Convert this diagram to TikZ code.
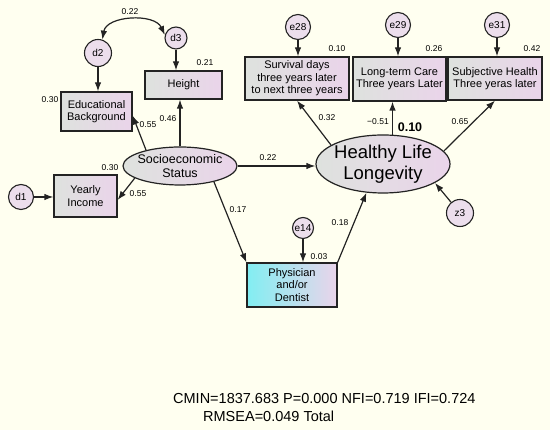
\documentclass[tikz,border=0pt]{standalone}
\usepackage{fontspec}
\setmainfont{Liberation Sans}
\usetikzlibrary{positioning,arrows.meta,shapes.geometric}
\definecolor{cream}{RGB}{255,255,240}
\definecolor{boxgray}{RGB}{222,226,222}
\definecolor{boxpink}{RGB}{234,212,234}
\definecolor{bubble}{RGB}{236,222,236}
\definecolor{aqua}{RGB}{130,238,242}
\definecolor{ink}{RGB}{35,35,35}
\newcommand{\coefsize}{\fontsize{8.5}{10}\selectfont}
\newcommand{\boxsize}{\fontsize{11}{12.5}\selectfont}

\begin{document}
\begin{tikzpicture}[x=1pt,y=1pt,
    obs/.style={draw=ink,line width=1.2pt,left color=boxgray,right color=boxpink,
                inner sep=1pt,align=center,font=\boxsize},
    lat/.style={ellipse,draw=ink,line width=1.2pt,left color=boxgray,right color=boxpink,
                inner xsep=-14pt,inner ysep=-4pt,align=center},
    err/.style={circle,draw=ink,line width=1.1pt,fill=bubble,inner sep=0pt,
                font=\fontsize{10}{12}\selectfont},
    arr/.style={draw=ink,line width=1.2pt,-{Latex[length=9pt,width=6.5pt]}},
    coef/.style={inner sep=0pt,font=\coefsize}]
    % page
    \fill[cream] (0,0) rectangle (550,430);
    % latent variables
    \node[lat,minimum width=114pt,minimum height=38pt,font=\fontsize{12.5}{14}\selectfont]
        (ses) at (180,264) {Socioeconomic\\Status};
    \node[lat,minimum width=134pt,minimum height=58pt,font=\fontsize{18.5}{21}\selectfont]
        (hl) at (383,266) {Healthy Life\\Longevity};
    % observed variables
    \node[obs,minimum width=71pt,minimum height=39pt] (edu) at (96.5,318.5) {Educational\\Background};
    \node[obs,minimum width=77pt,minimum height=28pt] (hgt) at (183.5,345) {Height};
    \node[obs,minimum width=63pt,minimum height=42pt] (inc) at (85.5,234) {Yearly\\Income};
    \node[obs,minimum width=104pt,minimum height=43pt] (surv) at (297,351.5)
        {Survival days\\three years later\\to next three years};
    \node[obs,minimum width=93pt,minimum height=44pt] (care) at (399.5,351)
        {Long-term Care\\Three years Later};
    \node[obs,minimum width=94pt,minimum height=43pt] (subj) at (495,351.5)
        {Subjective Health\\Three yeras later};
    \node[obs,left color=aqua,minimum width=90pt,minimum height=44pt] (doc) at (292,145)
        {Physician\\and/or\\Dentist};
    % error terms
    \node[err,minimum size=27pt] (d2) at (98,377) {d2};
    \node[err,minimum size=22pt] (d3) at (176,392) {d3};
    \node[err,minimum size=25pt] (d1) at (21,233) {d1};
    \node[err,minimum size=25pt] (e28) at (298,403) {e28};
    \node[err,minimum size=25pt] (e29) at (398,405) {e29};
    \node[err,minimum size=25pt] (e31) at (497,405) {e31};
    \node[err,minimum size=21pt] (e14) at (303,202) {e14};
    \node[err,minimum size=27pt] (z3) at (460,217) {z3};
    % paths
    \draw[arr] (ses.155) -- ([yshift=-4pt]edu.east);
    \draw[arr] (ses.north) -- (ses.north |- hgt.south);
    \draw[arr] (ses.195) -- ([yshift=-4pt]inc.east);
    \draw[arr] (ses.-25) -- (doc.north west);
    \draw[arr] (ses.east) -- (ses.east -| hl.west);
    \draw[arr] (doc.north east) -- (hl.-120);
    \draw[arr] (hl.160) -- (surv.south);
    \draw[arr] (hl.72) -- (hl.72 |- care.south);
    \draw[arr] (hl.12) -- (subj.south);
    \draw[arr] (z3) -- (hl.-20);
    % error arrows
    \draw[arr] (d1.east) -- (d1.east -| inc.west);
    \draw[arr] (d2.south) -- (d2.south |- edu.north);
    \draw[arr] (d3.south) -- (d3.south |- hgt.north);
    \draw[arr] (e28.south) -- (e28.south |- surv.north);
    \draw[arr] (e29.south) -- (e29.south |- care.north);
    \draw[arr] (e31.south) -- (e31.south |- subj.north);
    \draw[arr] (e14.south) -- (e14.south |- doc.north);
    \draw[draw=ink,line width=1.2pt,{Latex[length=9pt,width=6.5pt]}-{Latex[length=9pt,width=6.5pt]}]
        (d2.72) to[out=80,in=115] (d3.165);
    % estimates
    \node[coef] (k1) at (130,418) {0.22};
    \node[coef] (k2) at (205,367) {0.21};
    \node[coef] (k3) at (50,330) {0.30};
    \node[coef] (k4) at (148,305) {0.55};
    \node[coef] (k5) at (168,311) {0.46};
    \node[coef] (k6) at (110,262) {0.30};
    \node[coef] (k7) at (138,236) {0.55};
    \node[coef] (k8) at (238,220) {0.17};
    \node[coef] (k9) at (268,272) {0.22};
    \node[coef] (k10) at (337,381) {0.10};
    \node[coef] (k11) at (434,381) {0.26};
    \node[coef] (k12) at (532,381) {0.42};
    \node[coef] (k13) at (327,312) {0.32};
    \node[coef] (k14) at (378,308) {−0.51};
    \node[inner sep=0pt,font=\fontsize{12.5}{14}\selectfont\bfseries] (k15) at (410,303) {0.10};
    \node[coef] (k16) at (460,308) {0.65};
    \node[coef] (k17) at (319,173) {0.03};
    \node[coef] (k18) at (340,207) {0.18};
    % fit indices
    \node[anchor=west,inner sep=0pt,font=\fontsize{14.5}{16}\selectfont] (fit1) at (173,31)
        {CMIN=1837.683 P=0.000 NFI=0.719 IFI=0.724};
    \node[anchor=west,inner sep=0pt,font=\fontsize{14.5}{16}\selectfont] (fit2) at (203,14)
        {RMSEA=0.049 Total};
\end{tikzpicture}
\end{document}
